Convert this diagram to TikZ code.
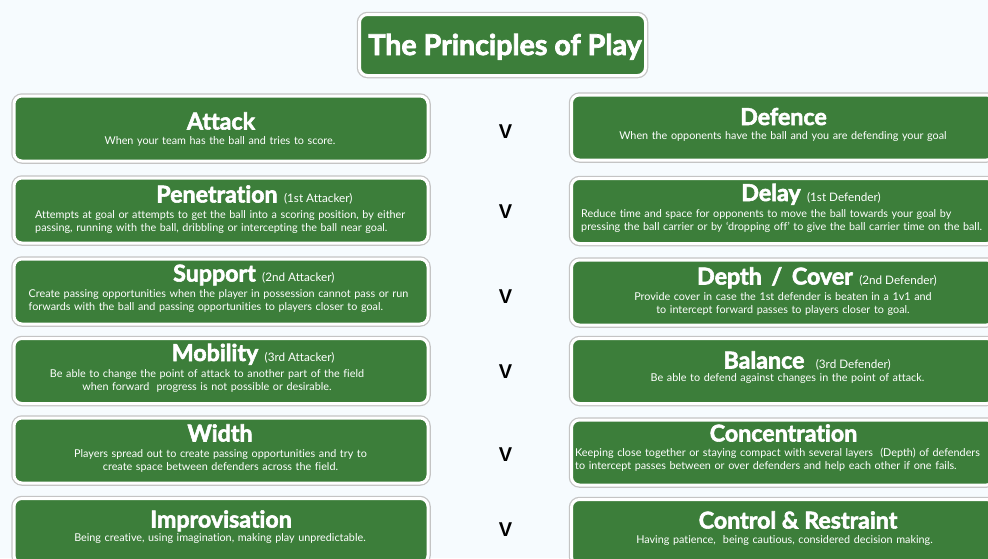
\documentclass[tikz,border=0pt]{standalone}
\usepackage{fontspec}
\setmainfont{Lato}[Ligatures=NoCommon]
\newfontfamily\headfamily{Lato}[Ligatures=NoCommon, BoldFeatures={FakeBold=2.5}]
\newcommand{\headfont}{\headfamily\bfseries}
\newfontfamily\versusfont{Liberation Sans}
\usepackage{tikz}
\usetikzlibrary{
  positioning,
  calc
}
\usepackage{xcolor}
\definecolor{pitchGreen}{RGB}{60,126,58}
\definecolor{pageTint}{RGB}{246,251,254}
\definecolor{rimGrey}{RGB}{196,196,196}
\tikzset{
  principle/.style={
    rectangle,
    rounded corners=8pt,
    fill=pitchGreen,
    draw=white,
    line width=3pt,
    preaction={draw=rimGrey, line width=5.5pt},
    inner sep=0pt,
    minimum height=65pt
  },
  leftBox/.style={principle, minimum width=414pt},
  rightBox/.style={principle, minimum width=423pt}
}
\tikzset{
  heading/.style={
    font=\headfont\fontsize{23.2}{23.2}\selectfont,
    text=white,
    inner sep=0pt,
    anchor=base
  },
  role/.style={
    font=\fontsize{11.7}{11.7}\selectfont,
    text=white,
    inner sep=0pt,
    anchor=base west
  },
  blurb/.style={
    font=\fontsize{10.8}{13}\selectfont,
    text=white,
    inner sep=0pt,
    text width=440pt,
    anchor=base
  },
  blurbLeft/.style={blurb, align=left, anchor=base west},
  blurbCentre/.style={blurb, align=center},
  versus/.style={
    font=\versusfont\bfseries\fontsize{20}{20}\selectfont,
    inner sep=0pt,
    anchor=base
  }
}

\begin{document}
\begin{tikzpicture}[x=1pt, y=-1pt]
    \path[use as bounding box, fill=pageTint] (0,0) rectangle (988,558);
    \clip (0,0) rectangle (988,558);

    % title
    \node[principle, minimum width=286pt, minimum height=61pt] (title) at (502.5,45) {};
    \node[heading, font=\headfont\fontsize{28.6}{28.6}\selectfont] (titleText) at (505,55)
      {The Principles of Play};

    % attacking principles
    \node[leftBox] (attack) at (221,128.5) {};
    \node[leftBox] (penetration) at (221,210.5) {};
    \node[leftBox] (support) at (221,291.5) {};
    \node[leftBox] (mobility) at (221,371) {};
    \node[leftBox] (width) at (221,450.5) {};
    \node[leftBox] (improvisation) at (221,531) {};

    \node[heading] (attackHead) at (221,129.5) {Attack};
    \node[blurbCentre] (attackText) at (220,144.5)
      {When your team has the ball and tries to score.};

    \node[heading] (penetrationHead) at (217,202.5) {Penetration};
    \node[role] (penetrationRole) at ($(penetrationHead.base east)+(6,0)$) {(1st Attacker)};
    \node[blurbLeft] (penetrationText) at (35,218.5)
      {Attempts at goal or attempts to get the ball into a scoring position, by either\\
       passing, running with the ball, dribbling or intercepting the ball near goal.};

    \node[heading] (supportHead) at (214.5,281.5) {Support};
    \node[role] (supportRole) at ($(supportHead.base east)+(6,0)$) {(2nd Attacker)};
    \node[blurbLeft] (supportText) at (28.5,297.5)
      {Create passing opportunities when the player in possession cannot pass or run\\
       forwards with the ball and passing opportunities to players closer to goal.};

    \node[heading] (mobilityHead) at (215,361) {Mobility};
    \node[role] (mobilityRole) at ($(mobilityHead.base east)+(6,0)$) {(3rd Attacker)};
    \node[blurbCentre] (mobilityText) at (207,377.5)
      {Be able to change the point of attack to another part of the field\\
       when forward\ \ progress is not possible or desirable.};

    \node[heading] (widthHead) at (220,441.5) {Width};
    \node[blurbCentre] (widthText) at (220.5,457.5)
      {Players spread out to create passing opportunities and try to\\
       create space between defenders across the field.};

    \node[heading] (improvisationHead) at (221,527.5) {Improvisation};
    \node[blurbCentre] (improvisationText) at (220,541.5)
      {Being creative, using imagination, making play unpredictable.};

    % defending principles
    \node[rightBox] (defence) at (783,127.5) {};
    \node[rightBox] (delay) at (783,211) {};
    \node[rightBox] (depth) at (783,292.5) {};
    \node[rightBox] (balance) at (783,371) {};
    \node[rightBox] (concentration) at (783,452.5) {};
    \node[rightBox] (control) at (783,532) {};

    \node[heading] (defenceHead) at (783.5,125) {Defence};
    \node[blurbCentre] (defenceText) at (783,139.5)
      {When the opponents have the ball and you are defending your goal};

    \node[heading] (delayHead) at (771,201) {Delay};
    \node[role] (delayRole) at ($(delayHead.base east)+(6,0)$) {(1st Defender)};
    \node[blurbLeft] (delayText) at (581,217.5)
      {Reduce time and space for opponents to move the ball towards your goal by\\
       pressing the ball carrier or by ‘dropping off’ to give the ball carrier time on the ball.};

    \node[heading] (depthHead) at (775,284.5) {Depth\hspace{4pt} / \hspace{4pt}Cover};
    \node[role] (depthRole) at ($(depthHead.base east)+(6,0)$) {(2nd Defender)};
    \node[blurbCentre] (depthText) at (783,300)
      {Provide cover in case the 1st defender is beaten in a 1v1 and\\
       to intercept forward passes to players closer to goal.};

    \node[heading] (balanceHead) at (764,368.5) {Balance};
    \node[role] (balanceRole) at ($(balanceHead.base east)+(11,0)$) {(3rd Defender)};
    \node[blurbCentre] (balanceText) at (787.5,381.5)
      {Be able to defend against changes in the point of attack.};

    \node[heading] (concentrationHead) at (783.5,441.5) {Concentration};
    \node[blurbLeft] (concentrationText) at (575,456.5)
      {Keeping close together or staying compact with several layers\ \ (Depth) of defenders\\
       to intercept passes between or over defenders and help each other if one fails.};

    \node[heading] (controlHead) at (798,528.5) {Control \& Restraint};
    \node[blurbCentre] (controlText) at (784.5,543.5)
      {Having patience,\ \ being cautious, considered decision making.};

    % versus marks
    \foreach \y [count=\i] in {138, 218, 303, 378, 461, 536}{
      \node[versus] (vs\i) at (505.5,\y) {V};
    }
\end{tikzpicture}
\end{document}
